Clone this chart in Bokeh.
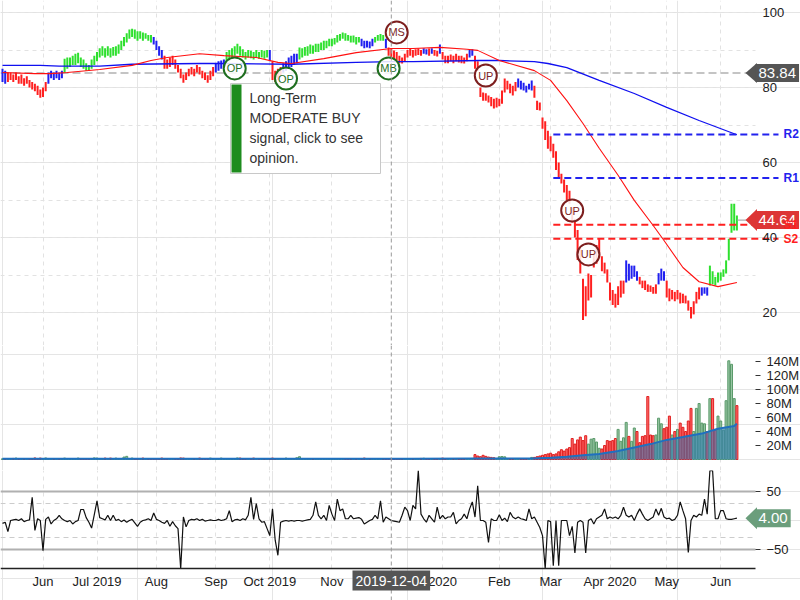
import pandas as pd
from bokeh.plotting import figure
from bokeh.layouts import column
from bokeh.models import Range1d, FixedTicker, Span, Label, PolyAnnotation, Grid, LinearAxis
from bokeh.core.properties import value
from bokeh.embed import file_html
from bokeh.resources import INLINE

FONT = "Liberation Sans"

# ---------------- data ----------------
HOLIDAYS = ["2019-05-27", "2019-07-04", "2019-09-02", "2019-11-28", "2019-12-25",
            "2020-01-01", "2020-01-20", "2020-02-17", "2020-04-10", "2020-05-25"]
MONTH_LABELS = {"2019-06": "Jun", "2019-07": "Jul 2019", "2019-08": "Aug", "2019-09": "Sep",
                "2019-10": "Oct 2019", "2019-11": "Nov", "2020-01": "2020", "2020-02": "Feb",
                "2020-03": "Mar", "2020-04": "Apr 2020", "2020-05": "May", "2020-06": "Jun"}

bar_low = [
    81.5, 81, 81.5, 82, 81.5, 82, 81, 81, 80.5, 81,
    80, 79.5, 79, 78, 77.3, 77.5, 79, 81, 82.5, 82,
    82.5, 82, 82.5, 84, 85, 85.5, 86, 86, 86.5, 85.5,
    85, 84.5, 84.5, 85, 86, 87, 88, 88.5, 88, 88.5,
    88, 88.5, 88.5, 89, 90, 91, 92, 93, 93.5, 93,
    92.5, 93, 92.5, 93, 92.5, 92, 91.5, 90, 88.5, 87.5,
    85, 85, 85.5, 86, 85, 84, 82.5, 81.3, 82, 83,
    83.5, 83, 84, 83.5, 82.5, 82, 81.3, 82, 83, 84,
    84.5, 85, 85.5, 86.5, 87, 88, 88.5, 89, 88.5, 88,
    87.5, 88, 87.8, 87.5, 88, 87.7, 88, 87.7, 88, 87,
    82, 81.5, 82, 83, 84, 84.5, 85, 85.5, 86, 86.5,
    87.5, 88, 88.5, 88.5, 89, 89, 89.5, 89.5, 90, 90,
    90.5, 91, 91, 91.5, 92, 92.5, 93, 92.5, 92.5, 92,
    92, 91.5, 92, 91, 90.5, 90.7, 90.5, 91, 92, 92.5,
    92.5, 92.5, 90.5, 88.5, 88, 87.5, 87.2, 86.5, 86.4, 87,
    88, 88.5, 88, 88.5, 88.7, 88.5, 89, 88.8, 88.5, 89,
    88.5, 88.3, 89, 87.5, 86.5, 86.5, 87, 86.5, 87, 86.7,
    86.5, 86.4, 87, 88, 88.5, 85, 84.5, 77.5, 76.5, 76.5,
    76, 75, 74.4, 74.7, 75, 75.7, 78.7, 79.5, 78.5, 77.9,
    79, 80, 79.5, 79.2, 78.7, 79.5, 79.2, 77.3, 74, 73.9,
    69, 66, 63.7, 63, 61.3, 58, 56, 54.4, 52, 50,
    49, 44, 40, 34, 30.4, 18, 19, 23.2, 24, 32,
    33, 34.7, 31, 30.4, 28, 23.2, 22, 21.3, 22, 24,
    25, 28, 28.5, 29, 29.5, 28.5, 27.5, 26.5, 26, 25.5,
    25.5, 25, 25, 27.5, 28.5, 28.5, 24, 23, 23.5, 23,
    23.5, 22.4, 22.5, 22.4, 20.5, 18.4, 19.5, 22.4, 23.5, 24.5,
    25, 24.5, 27.2, 27.5, 27.2, 28, 28.5, 29.5, 30.4, 33.9,
    41.3, 41.9, 41.9]

bar_high = [
    85, 84.5, 84, 84, 83.5, 84, 83, 83.5, 82.5, 83,
    82, 81.5, 81, 80.5, 79.5, 80, 81.5, 84, 84.5, 84,
    84.5, 84, 84.5, 87.7, 88, 88, 88.5, 89, 89.3, 88,
    87.5, 86.5, 86, 87.5, 88.5, 89.5, 90.5, 91, 90.5, 91,
    90.5, 90.8, 91, 91.5, 92.5, 93.5, 94.5, 95.5, 95.7, 95.5,
    95, 95, 94.7, 94.5, 94, 94, 93.5, 92.5, 91, 90,
    88.5, 87.5, 88, 88.5, 87.5, 86, 85, 83.5, 84, 85,
    85.5, 85, 86, 85.5, 84.5, 84, 83.3, 84.5, 85.5, 86.5,
    87, 87.2, 87.5, 89.5, 90, 90.5, 91, 91.7, 91, 90.2,
    89.5, 90, 89.8, 89.5, 90, 89.5, 90, 89.8, 90, 90,
    87, 84.5, 85, 85.5, 86.5, 87, 88, 88.5, 89, 89,
    90.7, 90.5, 90.8, 91, 91.5, 91.2, 91.7, 91.7, 92, 92.5,
    92.5, 93, 93, 93.2, 94, 94.3, 94.7, 94.5, 94, 93.8,
    93.9, 93.5, 93.5, 93, 92.5, 92.5, 92.3, 93, 93.5, 94,
    94.3, 94, 93, 90.7, 90.5, 89.9, 89.5, 88.5, 88, 89,
    90, 90.4, 90, 90.2, 90.4, 90, 90.5, 90.2, 90.4, 90.5,
    90, 89.8, 91.5, 89.5, 88.5, 88.5, 88.8, 88.5, 89, 88.5,
    88.5, 88, 89, 90, 90.2, 88.5, 87, 80, 78.7, 78.5,
    77.9, 77.5, 77, 77.3, 77, 79.2, 82.4, 81.8, 81, 80.5,
    81.5, 82.4, 81.8, 81.3, 80.5, 81, 81.9, 80.5, 76.5, 76,
    72, 71, 68.5, 67, 65, 63, 60, 57, 55.5, 54,
    52.5, 48, 45, 42, 37, 29, 27, 30.4, 30, 36,
    38, 39.7, 35, 33.3, 31.5, 28, 26, 25, 27, 28.5,
    28.5, 33.9, 33, 32.5, 32.5, 31, 29.5, 28.5, 28.5, 27.5,
    27.2, 26.8, 27.5, 30.5, 31.7, 31, 28.5, 26.4, 26, 25.5,
    26, 25.3, 25, 24.5, 23.2, 21.5, 23, 25.5, 26.7, 26.7,
    26.7, 26.7, 32.5, 31, 29.5, 30.7, 30.7, 31.5, 33.9, 39.7,
    49, 49, 45.9]

# trend state of each bar: b = neutral, g = up-trend, r = down-trend
trend_runs = [("b", 2), ("r", 15), ("b", 6), ("g", 33), ("b", 4), ("r", 19), ("b", 4),
              ("g", 16), ("b", 1), ("r", 4), ("b", 6), ("g", 23), ("b", 5), ("g", 4),
              ("b", 1), ("r", 13), ("b", 2), ("r", 1), ("b", 1), ("r", 2), ("b", 1),
              ("r", 10), ("b", 2), ("r", 16), ("b", 6), ("r", 34), ("b", 5), ("r", 7),
              ("b", 3), ("r", 13), ("b", 3), ("g", 11)]

volume_m = [
    1.0, 1.2, 0.8, 0.7, 1.5, 2.0, 0.8, 0.6, 0.7, 0.9,
    0.8, 0.7, 2.2, 0.9, 2.0, 1.0, 2.2, 0.8, 0.6, 0.7,
    0.6, 0.8, 0.7, 2.0, 0.8, 0.6, 0.7, 0.9, 2.0, 0.8,
    0.7, 0.6, 0.8, 0.9, 2.3, 2.0, 0.7, 0.8, 2.0, 0.7,
    2.0, 0.8, 2.0, 0.7, 0.6, 3.5, 4.5, 0.8, 2.0, 0.7,
    0.6, 0.8, 2.0, 0.7, 0.6, 0.8, 0.7, 0.9, 0.8, 2.0,
    0.7, 0.8, 0.6, 0.7, 0.9, 1.2, 2.2, 2.0, 0.8, 0.7,
    0.6, 0.8, 0.7, 2.0, 0.8, 0.6, 0.7, 2.0, 0.8, 0.7,
    0.6, 2.0, 0.8, 0.7, 0.6, 0.8, 0.7, 2.2, 2.0, 0.8,
    0.6, 0.7, 0.8, 2.0, 0.7, 0.6, 0.8, 0.7, 0.6, 1.0,
    2.0, 0.8, 0.7, 0.6, 0.8, 2.0, 0.7, 0.6, 0.8, 2.5,
    4.0, 0.8, 0.7, 0.6, 0.8, 0.7, 0.6, 0.8, 0.7, 0.6,
    0.8, 0.7, 0.6, 0.8, 0.7, 0.6, 0.8, 0.7, 0.6, 0.8,
    0.7, 0.6, 0.8, 0.7, 2.0, 0.8, 0.6, 0.7, 0.8, 0.6,
    0.7, 0.8, 0.9, 1.0, 1.5, 0.8, 0.7, 0.6, 0.8, 0.7,
    0.6, 0.8, 0.7, 0.6, 0.8, 1.5, 1.8, 0.7, 0.6, 0.8,
    0.7, 0.6, 0.8, 2.0, 0.7, 0.6, 0.8, 1.2, 0.7, 0.6,
    0.8, 1.2, 0.7, 0.6, 1.5, 7.0, 5.0, 4.0, 6.0, 4.5,
    3.5, 3.0, 2.5, 1.2, 4.0, 4.2, 3.8, 1.0, 0.8, 0.9,
    1.0, 0.8, 1.2, 1.0, 1.3, 1.2, 3.0,
    3, 4, 5, 6, 7, 8, 9, 7, 8, 11,
    14, 12, 15, 17, 30, 22, 28, 32, 27, 34,
    22, 29, 30, 25, 16, 15, 20, 27, 26, 27,
    30, 43, 26, 31, 53, 33, 26, 45, 40, 24,
    33, 34, 90, 35, 34, 35, 59, 51, 44, 46,
    62, 35, 40, 43, 52, 46, 40, 55, 73, 40,
    73, 80, 52, 51, 40, 87, 87, 42, 62, 55,
    42, 84, 141, 136, 87, 77]

vol_avg_bar = [0, 150, 175, 196, 203, 209, 215, 221, 228, 234, 240, 246, 252, 259, 265, 271, 272]
vol_avg_m = [1.0, 1.0, 1.5, 1.5, 2.5, 4, 6, 8, 12, 17, 22, 28, 32, 37, 44, 48, 51]

ma_fast_bar = [0, 12, 18, 24, 36, 48, 55, 61, 73, 82, 94, 102, 107, 119, 131, 144, 152, 162,
               172, 176, 184, 197, 203, 209, 215, 221, 228, 234, 241, 245, 252, 258, 265, 272]
ma_fast = [84, 83.7, 83.7, 84, 84.8, 85.9, 87.2, 88, 89, 88.5, 88, 86.7, 86.4, 87.7, 89.3,
           90.4, 90.4, 90.7, 90.2, 89.9, 87.2, 84.5, 81.9, 76.5, 70.4, 63.8, 56.6, 49.9,
           43.2, 39.2, 32, 28.2, 26.9, 28]

ma_slow_bar = [0, 14, 21, 36, 48, 73, 82, 107, 131, 144, 152, 177, 184, 197, 202, 209,
               221, 234, 246, 258, 272]
ma_slow = [85.9, 85.9, 85.7, 85.7, 86.2, 86.4, 86.4, 86.2, 86.7, 86.9, 86.9, 87.2, 87.2,
           86.9, 86.4, 85.3, 81.9, 78.4, 74.7, 71.2, 67.4]

osc = [
    -5, -3, -19, 0, 1, 2, 0, 3, -2, 0,
    1, 40, -17, 3, 0, -52, 2, 6, -6, 0,
    3, 9, 3, 0, -2, 0, -6, -2, 0, 19,
    19, 5, -3, -13, 10, 34, 5, 3, 1, 9,
    0, 9, 0, 2, -2, 1, -3, 0, 2, -4,
    -10, -3, 0, 1, 3, 0, 13, 2, 0, -3,
    -5, 0, -10, -2, -9, -14, -83, 6, -11, 0,
    2, 1, 3, 0, 2, -1, 0, 1, 0, 0,
    2, 0, 1, 3, 17, -2, 1, 2, 0, 3,
    1, 9, 40, 2, 29, 3, -3, -2, -14, -26,
    20, -34, -60, -3, -1, 0, -1, 0, -1, 0,
    0, -1, 0, 1, 2, 9, 32, 9, 3, 9,
    0, 26, 11, 0, 37, 17, 20, 3, 3, 9,
    3, 4, 5, 2, -6, -3, 0, 2, 9, 3,
    34, -3, 6, 3, 0, -1, -2, -3, 9, 23,
    17, 0, 26, 20, 86, 11, 3, -3, 9, 3,
    -3, 23, 3, 9, 3, 6, 6, 14, -6, 0,
    3, 11, 3, 20, 32, 6, 60, 0, 0, -3,
    -38, 3, 0, 0, 10, 0, 4, -2, 14, 6,
    3, 6, 3, 2, 0, 20, 3, 6, -3, -12,
    -26, -83, 0, -2, -78, 0, -78, 0, 0, 0,
    -26, -10, -56, -3, 0, -3, -56, 0, 3, -6,
    3, 6, 9, 20, 3, 6, 4, 6, 3, 9,
    23, 9, 6, 9, 0, 11, 20, 11, 3, 0,
    3, 6, 20, 9, 21, 6, 3, 4, 0, 2,
    9, 32, 17, 3, -55, 0, 9, 6, 11, 9,
    37, 11, 86, 86, 3, 3, 17, 17, 3, 2,
    2, 3, 4]

signal_bar = [86, 105, 143, 146, 179, 211, 217]
signal_level = [85.1, 82.4, 85.1, 94.7, 83.2, 47.2, 35.5]
signal_text = ["OP", "OP", "MB", "MS", "UP", "UP", "UP"]
signal_side = ["buy", "buy", "buy", "sell", "sell", "sell", "sell"]

level_names = ["R2", "R1", "S1", "S2"]
level_values = [67.5, 55.9, 43.4, 39.7]
level_kind = ["res", "res", "sup", "sup"]
level_start_bar = 204

ref_price = 83.84
last_price = 44.64
last_osc = 4.00
cursor_date = "2019-12-04"
opinion_lines = ["Long-Term", "MODERATE BUY", "signal, click to see", "opinion."]
vol_ticks = [20, 40, 60, 80, 100, 120, 140]
price_ticks = [20, 40, 60, 80, 100]
price_grid = [10, 20, 30, 40, 50, 60, 70, 80, 90, 100]
osc_ticks = [-50, 50]
osc_guides = [-30, 30]

# ---------------- derived ----------------
n = len(bar_low)
dates = [d for d in pd.bdate_range("2019-05-10", "2020-06-12")
         if d.strftime("%Y-%m-%d") not in HOLIDAYS][:n]
idx = list(range(n))
trend = "".join(c * k for c, k in trend_runs)
assert len(trend) == n and len(bar_high) == n and len(volume_m) == n and len(osc) == n

ticks, tick_labels, prev = [], {}, None
for i, d in enumerate(dates):
    key = d.strftime("%Y-%m")
    if key != prev and key in MONTH_LABELS:
        ticks.append(i)
        tick_labels[i] = MONTH_LABELS[key]
    prev = key
cursor_i = [d.strftime("%Y-%m-%d") for d in dates].index(cursor_date)

TREND_COL = {"g": "#2ee02e", "r": "#ff2020", "b": "#2020f0"}
bar_colors = [TREND_COL[c] for c in trend]
mid = [(a + b) / 2 for a, b in zip(bar_low, bar_high)]
up = [i == 0 or mid[i] >= mid[i - 1] for i in idx]
vfill = ["#8cbf99" if u else "#ff5c5c" for u in up]
vline = ["#5a9a6a" if u else "#e01e1e" for u in up]

# pixel helpers for placing annotations
PXB, X0 = 2.7, 2.0
def bx(px): return (px - X0) / PXB
def main_y(px): return 100 - (px - 12) / 3.75
def osc_y(px): return (520 - px) / 0.58

xr = Range1d(bx(0), bx(800))
AX_X = bx(755)
PLOT_SPAN = (bx(0), bx(755))
TAG_PAD = dict(left=3, right=3, top=4, bottom=4)


def make(h, yr):
    p = figure(frame_width=800, frame_height=h, x_range=xr, y_range=yr,
               x_axis_location=None, y_axis_location=None,
               output_backend="svg", toolbar_location=None,
               min_border_left=0, min_border_right=0, min_border_top=0, min_border_bottom=0)
    p.outline_line_color = None
    p.background_fill_color = "white"
    p.border_fill_color = "white"
    return p


def right_axis(p, ticks_, tick_out, overrides=None):
    ax = LinearAxis(ticker=FixedTicker(ticks=ticks_), fixed_location=AX_X)
    ax.axis_line_color = None
    ax.minor_tick_line_color = None
    ax.major_tick_out = tick_out
    ax.major_tick_in = 0
    ax.major_tick_line_color = "#333333" if tick_out else None
    ax.major_label_standoff = 6 if tick_out else 7
    ax.major_label_text_font = FONT
    ax.major_label_text_font_size = "13px"
    ax.major_label_text_color = "#222222"
    if overrides:
        ax.major_label_overrides = overrides
    p.add_layout(ax, "right")


def value_tag(p, yv, txt, col, half_h):
    p.add_layout(PolyAnnotation(xs=[bx(745), bx(756.5), bx(756.5)],
                                ys=[yv, yv + half_h, yv - half_h],
                                fill_color=col, fill_alpha=1, line_alpha=0))
    p.add_layout(Label(x=755, x_units="screen", y=yv, text=txt, text_color="white",
                       text_font=FONT, text_font_size="15px", text_baseline="middle",
                       text_align="left", background_fill_color=col, padding=TAG_PAD))


# ---------------- price panel ----------------
p1 = make(345, Range1d(main_y(345), main_y(0)))
p1.add_layout(Grid(dimension=0, ticker=FixedTicker(ticks=ticks),
                   grid_line_color="#e2e2e2", grid_line_dash="4 4",
                   cross_bounds=(main_y(345), main_y(0))))
p1.add_layout(Grid(dimension=1, ticker=FixedTicker(ticks=price_grid),
                   grid_line_color="#e2e2e2", grid_line_dash="4 4", cross_bounds=PLOT_SPAN))
right_axis(p1, price_ticks, 0)
p1.add_layout(Span(location=cursor_i, dimension="height", line_color="#999999",
                   line_width=1, line_dash="4 3"))

p1.segment(x0=[PLOT_SPAN[0]], y0=[ref_price], x1=[bx(748)], y1=[ref_price],
           line_color="#c4c4c4", line_width=2, line_dash="8 4")
p1.segment(x0=idx, y0=bar_low, x1=idx, y1=bar_high, line_color=bar_colors, line_width=2)
p1.line(ma_slow_bar, ma_slow, line_color="#1010f0", line_width=1.3)
p1.line(ma_fast_bar, ma_fast, line_color="#ff1010", line_width=1.1)

lvl_col = ["#2222ee" if k == "res" else "#ff2020" for k in level_kind]
p1.segment(x0=[level_start_bar] * len(level_values), y0=level_values,
           x1=[bx(778)] * len(level_values), y1=level_values,
           line_color=lvl_col, line_width=2, line_dash="7 4")

# opinion box
p1.quad(left=[bx(230)], right=[bx(380)], top=[main_y(83)], bottom=[main_y(173)],
        fill_color="white", line_color="#c8c8c8", line_width=1)
p1.quad(left=[bx(231)], right=[bx(241)], top=[main_y(84)], bottom=[main_y(172)],
        fill_color="#1e8c1e", line_color=None)
p1.text(x=[bx(249)] * 4, y=[main_y(97 + 20 * k) for k in range(4)], text=opinion_lines,
        text_font=value(FONT), text_font_size="14px", text_color="#333333",
        text_baseline="middle", text_align="left")

# signals
sig_col = ["#1f6e1f" if s == "buy" else "#7d1f1f" for s in signal_side]
p1.scatter(signal_bar, signal_level, size=22, fill_color="white", fill_alpha=0.85,
           line_color=sig_col, line_width=2)
p1.text(x=signal_bar, y=signal_level, text=signal_text, text_color=sig_col,
        text_font=value(FONT), text_font_size="11px", text_align="center",
        text_baseline="middle")

p1.segment(x0=[n - 1], y0=[last_price], x1=[bx(748)], y1=[last_price],
           line_color="#999999", line_width=1)

value_tag(p1, ref_price, f"{ref_price:.2f}", "#555555", 10 / 3.75)
value_tag(p1, last_price, f"{last_price:.2f}", "#dd3535", 11 / 3.75)

for name, v, c in zip(level_names, level_values, lvl_col):
    p1.add_layout(Label(x=783, x_units="screen", y=v, text=name, text_color=c,
                        text_font=FONT, text_font_size="12px", text_font_style="bold",
                        text_baseline="middle", text_align="left"))

# ---------------- volume panel ----------------
p2 = make(125, Range1d(-11 / 0.7, 114 / 0.7))
p2.add_layout(Grid(dimension=0, ticker=FixedTicker(ticks=ticks),
                   grid_line_color="#e2e2e2", grid_line_dash="4 4"))
right_axis(p2, vol_ticks, 5, {t: f"{t}M" for t in vol_ticks})
p2.add_layout(Span(location=cursor_i, dimension="height", line_color="#999999",
                   line_width=1, line_dash="4 3"))
p2.vbar(x=idx, top=volume_m, bottom=0, width=0.75, fill_color=vfill, fill_alpha=0.9,
        line_color=vline, line_width=1)
p2.varea(x=vol_avg_bar, y1=[0] * len(vol_avg_bar), y2=vol_avg_m, fill_color="#2a78b8",
         fill_alpha=0.55)
p2.line(vol_avg_bar, vol_avg_m, line_color="#1f70c0", line_width=2)

# ---------------- oscillator panel ----------------
OSC_BOTTOM = osc_y(568)
p3 = make(130, Range1d(osc_y(600), osc_y(470)))
p3.add_layout(Grid(dimension=0, ticker=FixedTicker(ticks=ticks),
                   grid_line_color="#e2e2e2", grid_line_dash="4 4",
                   cross_bounds=(OSC_BOTTOM, osc_y(470))))
p3.add_layout(Grid(dimension=1, ticker=FixedTicker(ticks=osc_ticks),
                   grid_line_color="#b0b0b0", grid_line_width=2, cross_bounds=PLOT_SPAN))
p3.add_layout(Grid(dimension=1, ticker=FixedTicker(ticks=osc_guides),
                   grid_line_color="#cccccc", grid_line_width=1, grid_line_dash="5 4",
                   cross_bounds=PLOT_SPAN))
right_axis(p3, osc_ticks, 5)
p3.add_layout(Span(location=cursor_i, dimension="height", line_color="#999999",
                   line_width=1, line_dash="4 3"))
p3.line(idx, osc, line_color="#111111", line_width=1.2)

xa = LinearAxis(ticker=FixedTicker(ticks=ticks), fixed_location=OSC_BOTTOM, bounds=PLOT_SPAN)
xa.major_label_overrides = tick_labels
xa.major_tick_line_color = None
xa.major_tick_out = 0
xa.major_tick_in = 0
xa.minor_tick_line_color = None
xa.axis_line_color = "#222222"
xa.axis_line_width = 1.5
xa.major_label_text_font = FONT
xa.major_label_text_font_size = "13px"
xa.major_label_text_color = "#222222"
xa.major_label_standoff = 5
p3.add_layout(xa, "below")

value_tag(p3, last_osc, f"{last_osc:.2f}", "#6b9e7c", 11 / 0.58)
p3.add_layout(Label(x=cursor_i, y=osc_y(580), text=cursor_date, text_color="white",
                    text_font=FONT, text_font_size="14px", text_align="center",
                    text_baseline="middle", background_fill_color="#555555",
                    padding=dict(left=3, right=3, top=5, bottom=5)))

layout = column(p1, p2, p3)
open("out.html", "w").write(file_html(layout, INLINE))
